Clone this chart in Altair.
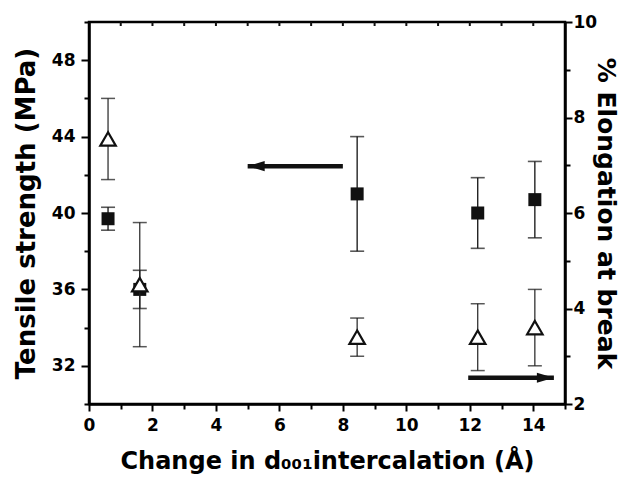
import altair as alt
import pandas as pd

# ---- data ----
x_vals = [0.6, 1.6, 8.45, 12.25, 14.05]          # change in d001 (Å)
tensile = [39.7, 36.0, 41.0, 40.0, 40.7]          # MPa (left axis)
tensile_err = [0.6, 1.0, 3.0, 1.85, 2.0]
elong = [7.55, 4.5, 3.4, 3.4, 3.6]                # % (right axis)
elong_err = [0.85, 1.3, 0.4, 0.7, 0.8]

left_arrow_x = [8.0, 5.0]      # tail, tip
left_arrow_y = [42.45]
right_arrow_x = [11.95, 14.65]  # tail, tip
right_arrow_y = [2.55]

x_ticks = list(range(0, 16))
top_ticks = list(range(1, 15))
left_ticks = list(range(30, 51, 2))
right_ticks = list(range(2, 11))

FONT = "DejaVu Sans"
W, H = 476, 382

df = pd.DataFrame({
    "x": x_vals,
    "ts": tensile,
    "ts_lo": [v - e for v, e in zip(tensile, tensile_err)],
    "ts_hi": [v + e for v, e in zip(tensile, tensile_err)],
    "el": elong,
    "el_lo": [v - e for v, e in zip(elong, elong_err)],
    "el_hi": [v + e for v, e in zip(elong, elong_err)],
})
la = pd.DataFrame({"x1": [left_arrow_x[0]], "x2": [left_arrow_x[1]], "y": left_arrow_y})
ra = pd.DataFrame({"x1": [right_arrow_x[0]], "x2": [right_arrow_x[1]], "y": right_arrow_y})
tt = pd.DataFrame({"x": top_ticks})

x_scale = alt.Scale(domain=[0, 15], nice=False, zero=False)
l_scale = alt.Scale(domain=[30, 50], nice=False, zero=False)
r_scale = alt.Scale(domain=[2, 10], nice=False, zero=False)

x_axis = alt.Axis(
    title="Change in d\u2080\u2080\u2081intercalation (\u00c5)",
    orient="bottom", values=x_ticks,
    labelExpr="(datum.value % 2 == 0 && datum.value < 15) ? datum.label : ''",
    tickSize={"condition": {"test": "datum.value % 2 == 0", "value": 7}, "value": 5},
    labelFlush=False, labelOverlap=False, labelPadding=6, titlePadding=16,
    titleFontSize=24,
)
l_axis = alt.Axis(
    title="Tensile strength (MPa)", orient="left", values=left_ticks,
    labelExpr="datum.value % 4 == 0 ? datum.label : ''",
    tickSize={"condition": {"test": "datum.value % 4 == 0", "value": 8}, "value": 5},
    labelOverlap=False, labelPadding=6,
    titleFontSize=26, titleBaseline="alphabetic", titleX=-55, titleY=H / 2,
)
r_axis = alt.Axis(
    title="% Elongation at break", orient="right", values=right_ticks,
    labelExpr="datum.value % 2 == 0 ? datum.label : ''",
    tickSize={"condition": {"test": "datum.value % 2 == 0", "value": 7}, "value": 5},
    labelOverlap=False, labelPadding=1,
    titleFontSize=25, titleBaseline="alphabetic", titleX=32, titleY=H / 2,
)

X = alt.X("x:Q", scale=x_scale, axis=x_axis)
INK = "#111111"

# ---- left (tensile strength) group ----
sq_bar = alt.Chart(df).mark_rule(color=INK, strokeWidth=1.3).encode(
    x=X, y=alt.Y("ts_lo:Q", scale=l_scale, axis=l_axis), y2="ts_hi:Q")
sq_cap_lo = alt.Chart(df).mark_tick(orient="horizontal", size=14, thickness=1.6, color=INK).encode(
    x=X, y=alt.Y("ts_lo:Q", scale=l_scale, axis=l_axis))
sq_cap_hi = alt.Chart(df).mark_tick(orient="horizontal", size=14, thickness=1.6, color=INK).encode(
    x=X, y=alt.Y("ts_hi:Q", scale=l_scale, axis=l_axis))
sq_pts = alt.Chart(df).mark_point(shape="square", filled=True, size=169, color=INK, opacity=1).encode(
    x=X, y=alt.Y("ts:Q", scale=l_scale, axis=l_axis))
la_line = alt.Chart(la).mark_rule(color=INK, strokeWidth=4.5).encode(
    x=alt.X("x1:Q", scale=x_scale, axis=x_axis), x2="x2:Q",
    y=alt.Y("y:Q", scale=l_scale, axis=l_axis))
la_head = alt.Chart(la).mark_point(shape="M0,0L2,-0.6L2,0.6Z", filled=True, size=289, color=INK, opacity=1).encode(
    x=alt.X("x2:Q", scale=x_scale, axis=x_axis), y=alt.Y("y:Q", scale=l_scale, axis=l_axis))
top_tk = alt.Chart(tt).mark_rule(color=INK, strokeWidth=2).encode(
    x=alt.X("x:Q", scale=x_scale, axis=x_axis), y=alt.value(0), y2=alt.value(4))

left = alt.layer(sq_bar, sq_cap_lo, sq_cap_hi, sq_pts, la_line, la_head, top_tk)

# ---- right (elongation) group ----
tr_bar = alt.Chart(df).mark_rule(color="#222222", strokeWidth=1.2).encode(
    x=X, y=alt.Y("el_lo:Q", scale=r_scale, axis=r_axis), y2="el_hi:Q")
tr_cap_lo = alt.Chart(df).mark_tick(orient="horizontal", size=14, thickness=1.5, color=INK).encode(
    x=X, y=alt.Y("el_lo:Q", scale=r_scale, axis=r_axis))
tr_cap_hi = alt.Chart(df).mark_tick(orient="horizontal", size=14, thickness=1.5, color=INK).encode(
    x=X, y=alt.Y("el_hi:Q", scale=r_scale, axis=r_axis))
tr_pts = alt.Chart(df).mark_point(shape="triangle-up", filled=True, fill="white", stroke=INK,
                                  strokeWidth=2.2, size=240, opacity=1).encode(
    x=X, y=alt.Y("el:Q", scale=r_scale, axis=r_axis))
ra_line = alt.Chart(ra).mark_rule(color=INK, strokeWidth=4.5).encode(
    x=alt.X("x1:Q", scale=x_scale, axis=x_axis), x2="x2:Q",
    y=alt.Y("y:Q", scale=r_scale, axis=r_axis))
ra_head = alt.Chart(ra).mark_point(shape="M0,0L-2,-0.6L-2,0.6Z", filled=True, size=289, color=INK, opacity=1).encode(
    x=alt.X("x2:Q", scale=x_scale, axis=x_axis), y=alt.Y("y:Q", scale=r_scale, axis=r_axis))

right = alt.layer(tr_bar, tr_cap_lo, tr_cap_hi, tr_pts, ra_line, ra_head)

chart = alt.layer(left, right).resolve_scale(y="independent").properties(
    width=W, height=H,
    padding={"left": 89, "top": 22, "right": 57, "bottom": 79},
    autosize=alt.AutoSizeParams(type="none"),
    background="white",
).configure_view(
    stroke="black", strokeWidth=2.5,
).configure_axis(
    grid=False, domainColor="black", domainWidth=2.5, tickColor="black", tickWidth=2,
    labelFont=FONT, labelFontWeight="bold", labelFontSize=17, labelColor="black",
    titleFont=FONT, titleFontWeight="bold", titleColor="black",
)

chart.save("out.html", embed_options={"renderer": "svg", "actions": False})
